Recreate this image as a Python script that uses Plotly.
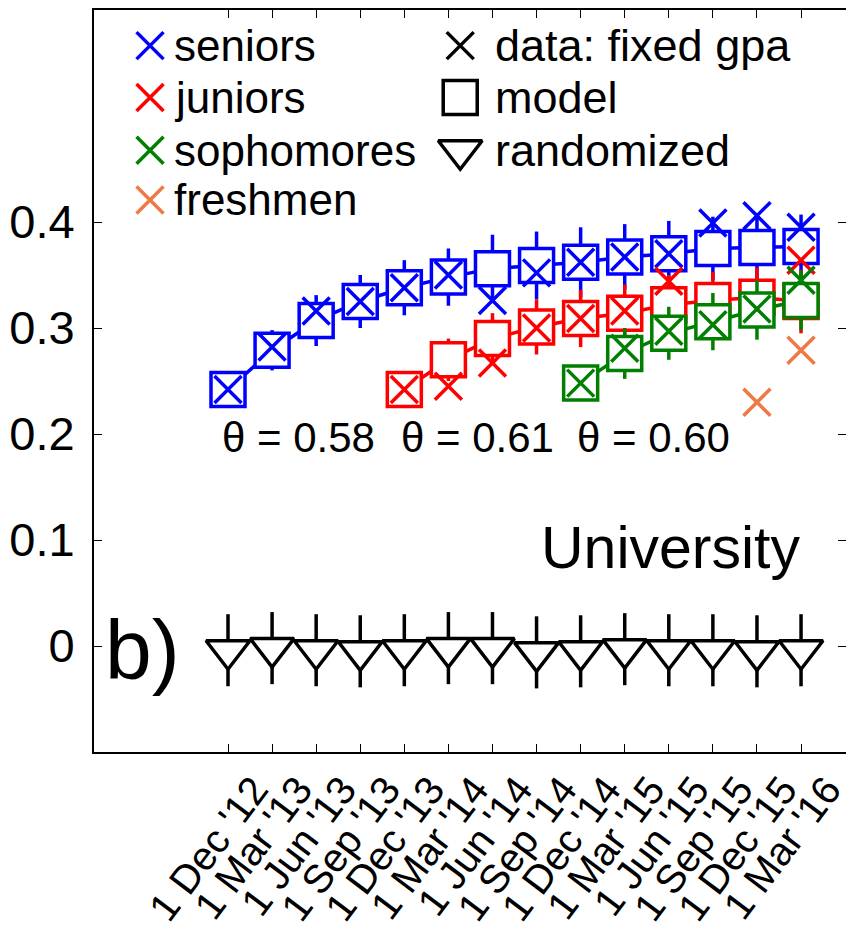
import plotly.graph_objects as go

# ---------------- data ----------------
dates = ["1 Dec '12", "1 Mar '13", "1 Jun '13", "1 Sep '13", "1 Dec '13", "1 Mar '14",
         "1 Jun '14", "1 Sep '14", "1 Dec '14", "1 Mar '15", "1 Jun '15", "1 Sep '15",
         "1 Dec '15", "1 Mar '16"]
y_ticks = [0, 0.1, 0.2, 0.3, 0.4]
y_tick_text = ["0", "0.1", "0.2", "0.3", "0.4"]

seniors_x = list(range(0, 14))
seniors_model = [0.242, 0.279, 0.307, 0.325, 0.338, 0.348, 0.356, 0.359, 0.362, 0.367, 0.370, 0.375, 0.376, 0.377]
seniors_data = [0.242, 0.282, 0.316, 0.325, 0.338, 0.350, 0.326, 0.352, 0.362, 0.367, 0.370, 0.399, 0.406, 0.395]
seniors_err = [0.008, 0.019, 0.024, 0.025, 0.026, 0.027, 0.032, 0.032, 0.033, 0.031, 0.031, 0.030, 0.030, 0.030]

juniors_x = list(range(4, 14))
juniors_model = [0.242, 0.270, 0.290, 0.301, 0.309, 0.314, 0.322, 0.326, 0.329, 0.325]
juniors_data = [0.242, 0.245, 0.267, 0.300, 0.309, 0.316, 0.344, 0.310, 0.320, 0.364]
juniors_err = [0.010, 0.020, 0.024, 0.026, 0.027, 0.027, 0.028, 0.027, 0.028, 0.030]

sophomores_x = list(range(8, 14))
sophomores_model = [0.248, 0.276, 0.295, 0.306, 0.317, 0.326]
sophomores_data = [0.248, 0.281, 0.297, 0.303, 0.318, 0.345]
sophomores_err = [0.010, 0.024, 0.025, 0.027, 0.028, 0.028]

freshmen_x = [12, 13]
freshmen_data = [0.230, 0.279]

randomized_x = list(range(0, 14))
randomized = [-0.004, -0.002, -0.004, -0.005, -0.004, -0.002, -0.002, -0.006, -0.005, -0.003, -0.004, -0.004, -0.005, -0.004]
randomized_err = [0.034] * 14

theta_text = ["θ = 0.58", "θ = 0.61", "θ = 0.60"]

legend_groups = ["seniors", "juniors", "sophomores", "freshmen"]
legend_kinds = ["data: fixed gpa", "model", "randomized"]

# ---------------- style ----------------
FONT = "Liberation Sans, Arial, Helvetica, sans-serif"
BLUE, RED, GREEN, ORANGE = "#0000FF", "#FF0000", "#007F00", "#F07844"
LW = 3.5
SQ = 34
XS = 27
TRI = 38

fig = go.Figure()


def add_group(xs, model, data, err, color):
    if model is not None:
        fig.add_trace(go.Scatter(
            x=xs, y=model, mode="lines", line=dict(color=color, width=LW),
            error_y=dict(type="data", array=err, visible=True, color=color,
                         thickness=LW, width=0),
            hoverinfo="skip", showlegend=False))
        fig.add_trace(go.Scatter(
            x=xs, y=model, mode="markers",
            marker=dict(symbol="square", size=SQ, color="white",
                        line=dict(color=color, width=LW)),
            showlegend=False))
    fig.add_trace(go.Scatter(
        x=xs, y=data, mode="markers",
        marker=dict(symbol="x-thin-open", size=XS, color=color,
                    line=dict(color=color, width=LW)),
        showlegend=False))


add_group(seniors_x, seniors_model, seniors_data, seniors_err, BLUE)
add_group(juniors_x, juniors_model, juniors_data, juniors_err, RED)
add_group(sophomores_x, sophomores_model, sophomores_data, sophomores_err, GREEN)
add_group(freshmen_x, None, freshmen_data, None, ORANGE)

# randomized
fig.add_trace(go.Scatter(
    x=randomized_x, y=randomized, mode="markers",
    marker=dict(size=1, color="rgba(0,0,0,0)"),
    error_y=dict(type="data", array=randomized_err, visible=True, color="black",
                 thickness=LW, width=0),
    showlegend=False))
fig.add_trace(go.Scatter(
    x=randomized_x, y=randomized, mode="markers",
    marker=dict(symbol="triangle-down", size=TRI, color="white",
                line=dict(color="black", width=LW)),
    showlegend=False))

# ---------------- manual legend (overlay axes spanning the plot box) ----------------
col1_x, col2_x = 0.0745, 0.487
rows_y = [0.952, 0.882, 0.811, 0.744]
grp_colors = [BLUE, RED, GREEN, ORANGE]
fig.add_trace(go.Scatter(
    x=[col1_x] * 4, y=rows_y, xaxis="x2", yaxis="y2", mode="markers",
    marker=dict(symbol="x-thin-open", size=XS, color=grp_colors,
                line=dict(color=grp_colors, width=LW)),
    hoverinfo="skip", showlegend=False))
fig.add_trace(go.Scatter(
    x=[col2_x], y=[rows_y[0]], xaxis="x2", yaxis="y2", mode="markers",
    marker=dict(symbol="x-thin-open", size=XS, color="black",
                line=dict(color="black", width=LW)),
    hoverinfo="skip", showlegend=False))
fig.add_trace(go.Scatter(
    x=[col2_x], y=[rows_y[1]], xaxis="x2", yaxis="y2", mode="markers",
    marker=dict(symbol="square-open", size=SQ, color="black",
                line=dict(color="black", width=LW)),
    hoverinfo="skip", showlegend=False))
fig.add_trace(go.Scatter(
    x=[col2_x], y=[rows_y[2]], xaxis="x2", yaxis="y2", mode="markers",
    marker=dict(symbol="triangle-down-open", size=TRI, color="black",
                line=dict(color="black", width=LW)),
    hoverinfo="skip", showlegend=False))

annotations = []
LEG_FS = 44
for name, yy in zip(legend_groups, rows_y):
    annotations.append(dict(x=0.104, y=yy, xref="x2", yref="y2", text=name,
                            showarrow=False, xanchor="left", yanchor="middle",
                            font=dict(family=FONT, size=LEG_FS, color="black")))
for name, yy in zip(legend_kinds, rows_y[:3]):
    annotations.append(dict(x=0.530, y=yy, xref="x2", yref="y2", text=name,
                            showarrow=False, xanchor="left", yanchor="middle",
                            font=dict(family=FONT, size=LEG_FS + 1, color="black")))

for t, xx in zip(theta_text, [1.59, 5.65, 9.66]):
    annotations.append(dict(x=xx, y=0.197, xref="x", yref="y", text=t, showarrow=False,
                            xanchor="center", yanchor="middle",
                            font=dict(family=FONT, size=42, color="black")))
annotations.append(dict(x=0.766, y=0.275, xref="x2", yref="y2", text="University",
                        showarrow=False, xanchor="center", yanchor="middle",
                        font=dict(family=FONT, size=59, color="black")))
annotations.append(dict(x=0.065, y=0.138, xref="x2", yref="y2", text="b)",
                        showarrow=False, xanchor="center", yanchor="middle",
                        font=dict(family=FONT, size=84, color="black")))

fig.update_layout(
    width=846, height=943,
    margin=dict(l=94, r=0, t=10, b=191, autoexpand=False),
    paper_bgcolor="white", plot_bgcolor="white",
    showlegend=False,
    font=dict(family=FONT, color="black"),
    xaxis=dict(range=[-3.04, 14.02], tickmode="array", tickvals=list(range(len(dates))),
               ticktext=dates, tickangle=-53, ticks="inside", ticklen=8, tickwidth=1,
               tickcolor="black", showline=True, linecolor="black", linewidth=2,
               mirror="ticks", showgrid=False, zeroline=False, automargin=False,
               tickfont=dict(family=FONT, size=40, color="black"),
               ticklabelshift=26, ticklabelstandoff=-4, ticklabeloverflow="allow"),
    yaxis=dict(range=[-0.1, 0.6], tickmode="array", tickvals=y_ticks, ticktext=y_tick_text,
               ticks="inside", ticklen=8, tickwidth=1, tickcolor="black",
               showline=True, linecolor="black", linewidth=2, mirror="ticks",
               showgrid=False, zeroline=False, automargin=False,
               tickfont=dict(family=FONT, size=47, color="black"),
               ticklabelstandoff=8),
    xaxis2=dict(overlaying="x", range=[0, 1], visible=False, fixedrange=True),
    yaxis2=dict(overlaying="y", range=[0, 1], visible=False, fixedrange=True),
    annotations=annotations,
)

fig.write_html("out.html",
               config={"displayModeBar": False},
               post_script="document.body.style.margin='0px';document.body.style.overflow='hidden';")
